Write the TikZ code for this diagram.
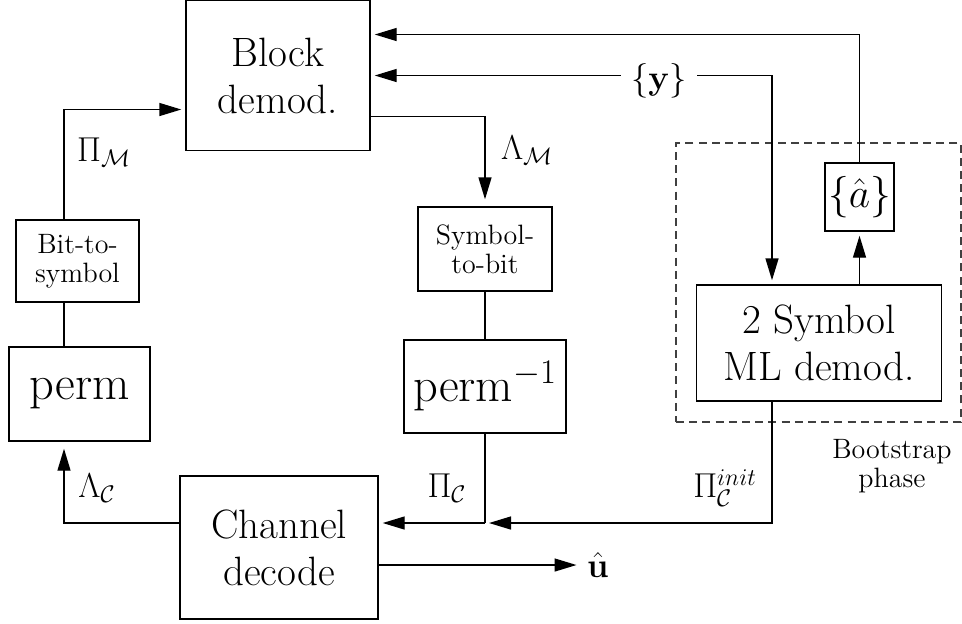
\documentclass[tikz,border=0pt]{standalone}
\usetikzlibrary{arrows.meta}
\begin{document}
\begin{tikzpicture}[x=0.5pt,y=-0.5pt,
  line width=0.7pt,
  box/.style={draw, align=center, inner sep=0pt},
  bigtxt/.style={font=\fontsize{20.5}{23.5}\selectfont},
  smalltxt/.style={font=\fontsize{14}{14.5}\selectfont},
  permtxt/.style={font=\fontsize{24.2}{28}\selectfont},
  lbl/.style={font=\fontsize{17}{20}\selectfont, inner sep=0pt},
  arr/.style={-{Triangle[length=11pt,width=6.5pt]}, shorten >=2pt}
]
\useasboundingbox (0,0) rectangle (962,623);

% boxes
\node[box, bigtxt, minimum width=92pt, minimum height=75pt] (bd) at (278,75.5) {Block\\demod.};
\node[box, smalltxt, minimum width=61.5pt, minimum height=41pt] (bts) at (77.5,261) {Bit-to-\\symbol};
\node[box, permtxt, minimum width=70.5pt, minimum height=47pt] (perm) at (79.5,394) {perm};
\node[box, bigtxt, minimum width=99pt, minimum height=71.5pt] (cd) at (279,547.5) {Channel\\decode};
\node[box, smalltxt, minimum width=67pt, minimum height=42pt] (s2b) at (485,249) {Symbol-\\to-bit};
\node[box, permtxt, minimum width=81pt, minimum height=46.5pt] (pinv) at (485,386.5) {perm$^{-1}$};
\node[box, font=\fontsize{20.5}{23.5}\selectfont, minimum width=34.5pt, minimum height=34pt] (ahat) at (859.5,197) {$\{\hat a\}$};
\node[box, bigtxt, minimum width=122.5pt, minimum height=58pt] (ml) at (819,343) {2 Symbol\\ML demod.};
\node[draw=black!75, dashed, dash pattern=on 4pt off 2.6pt, line width=0.55pt, minimum width=142.5pt, minimum height=139.5pt, inner sep=0pt] (boot) at (818.5,282.5) {};
\node[smalltxt, align=center, inner sep=0pt] (bootlbl) at (892,466) {Bootstrap\\phase};

% labels
\node[lbl, minimum width=37.5pt] (ylab) at (659,81) {$\{\mathbf{y}\}$};
\node[lbl] (pim) at (104,152) {$\Pi_{\mathcal M}$};
\node[lbl] (lam) at (527,150) {$\Lambda_{\mathcal M}$};
\node[lbl] (lac) at (97,488) {$\Lambda_{\mathcal C}$};
\node[lbl] (pic) at (447,488) {$\Pi_{\mathcal C}$};
\node[lbl] (picinit) at (725,488) {$\Pi_{\mathcal C}^{init}$};
\node[lbl, inner sep=3pt] (uhat) at (598,565) {$\hat{\mathbf{u}}$};

% helper coordinates
\coordinate (lx) at (64,0);
\coordinate (vx) at (772,0);
\coordinate (jn) at (485,523);

% connectors
\draw[arr] (bts.north -| lx) |- ([yshift=-17pt]bd.west);
\draw (bts.south -| lx) -- (perm.north -| lx);
\draw[arr, shorten >=3.5pt] ([yshift=12.25pt]cd.west) -| (perm.south -| lx);
\draw[arr] ([yshift=-8.75pt]cd.east) -- (uhat.west);
\draw (pinv.south) -- (jn);
\draw[arr] (jn) -- ([yshift=12.25pt]cd.east);
\draw[arr] (ml.south -| vx) |- (jn);
\draw[arr] (ylab.west |- bd.east) -- (bd.east);
\draw[arr] (ylab.east |- bd.east) -| (ml.north -| vx);
\draw[arr] (ahat.north) |- ([yshift=20.5pt]bd.east);
\draw[arr] (ml.north -| ahat.south) -- (ahat.south);
\draw[arr, shorten >=3.5pt] ([yshift=-20.5pt]bd.east) -| (s2b.north);
\draw (s2b.south) -- (pinv.north);
\end{tikzpicture}
\end{document}
